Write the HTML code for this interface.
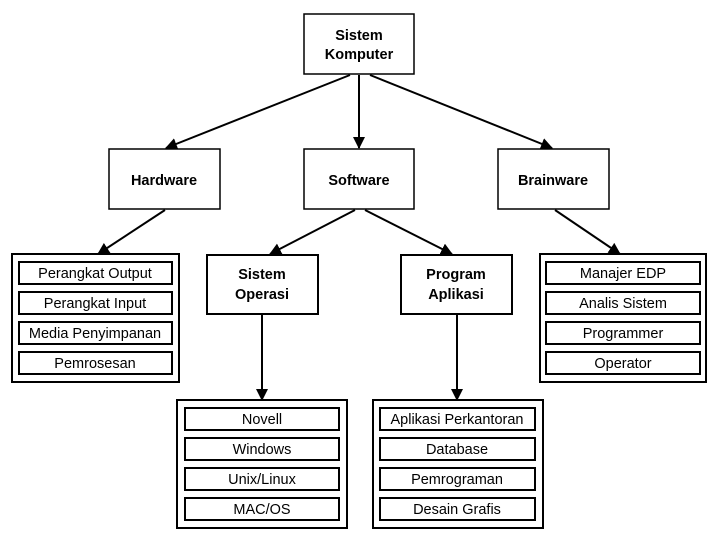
<!DOCTYPE html>
<html><head><style>body{margin:0;background:#fff}svg{display:block}</style></head><body>
<svg width="720" height="540" xmlns="http://www.w3.org/2000/svg" font-family="Liberation Sans, Arial, sans-serif">
<defs><marker id="a" markerWidth="12" markerHeight="12" refX="11" refY="6" orient="auto" markerUnits="userSpaceOnUse"><path d="M0,0 L12,6 L0,12 z" fill="#000"/></marker></defs>
<g stroke="#000" stroke-width="2" fill="none" marker-end="url(#a)">
<line x1="350" y1="75" x2="166" y2="148"/>
<line x1="359" y1="75" x2="359" y2="148"/>
<line x1="370" y1="75" x2="552" y2="148"/>
<line x1="165" y1="210" x2="98" y2="254"/>
<line x1="355" y1="210" x2="270" y2="254"/>
<line x1="365" y1="210" x2="452" y2="254"/>
<line x1="555" y1="210" x2="620" y2="254"/>
<line x1="262" y1="315" x2="262" y2="400"/>
<line x1="457" y1="315" x2="457" y2="400"/>
</g>
<g stroke="#000" fill="#fff" stroke-width="1.5">
<rect x="304" y="14" width="110" height="60"/>
<rect x="109" y="149" width="111" height="60"/>
<rect x="304" y="149" width="110" height="60"/>
<rect x="498" y="149" width="111" height="60"/>
</g>
<g stroke="#000" fill="#fff" stroke-width="2">
<rect x="207" y="255" width="111" height="59"/>
<rect x="401" y="255" width="111" height="59"/>
<rect x="12" y="254" width="167" height="128"/>
<rect x="540" y="254" width="166" height="128"/>
<rect x="177" y="400" width="170" height="128"/>
<rect x="373" y="400" width="170" height="128"/>
</g>
<g stroke="#000" fill="#fff" stroke-width="2">
<rect x="19" y="262" width="153" height="22"/><rect x="19" y="292" width="153" height="22"/><rect x="19" y="322" width="153" height="22"/><rect x="19" y="352" width="153" height="22"/>
<rect x="546" y="262" width="154" height="22"/><rect x="546" y="292" width="154" height="22"/><rect x="546" y="322" width="154" height="22"/><rect x="546" y="352" width="154" height="22"/>
<rect x="185" y="408" width="154" height="22"/><rect x="185" y="438" width="154" height="22"/><rect x="185" y="468" width="154" height="22"/><rect x="185" y="498" width="154" height="22"/>
<rect x="380" y="408" width="155" height="22"/><rect x="380" y="438" width="155" height="22"/><rect x="380" y="468" width="155" height="22"/><rect x="380" y="498" width="155" height="22"/>
</g>
<g font-weight="bold" font-size="14.5" text-anchor="middle" fill="#000">
<text x="359" y="40">Sistem</text><text x="359" y="59">Komputer</text>
<text x="164" y="185">Hardware</text>
<text x="359" y="185">Software</text>
<text x="553" y="185">Brainware</text>
<text x="262" y="279">Sistem</text><text x="262" y="299">Operasi</text>
<text x="456" y="279">Program</text><text x="456" y="299">Aplikasi</text>
</g>
<g font-size="14.5" text-anchor="middle" fill="#000">
<text x="95" y="278">Perangkat Output</text><text x="95" y="308">Perangkat Input</text><text x="95" y="338">Media Penyimpanan</text><text x="95" y="368">Pemrosesan</text>
<text x="623" y="278">Manajer EDP</text><text x="623" y="308">Analis Sistem</text><text x="623" y="338">Programmer</text><text x="623" y="368">Operator</text>
<text x="262" y="424">Novell</text><text x="262" y="454">Windows</text><text x="262" y="484">Unix/Linux</text><text x="262" y="514">MAC/OS</text>
<text x="457" y="424">Aplikasi Perkantoran</text><text x="457" y="454">Database</text><text x="457" y="484">Pemrograman</text><text x="457" y="514">Desain Grafis</text>
</g>
</svg>
</body></html>
